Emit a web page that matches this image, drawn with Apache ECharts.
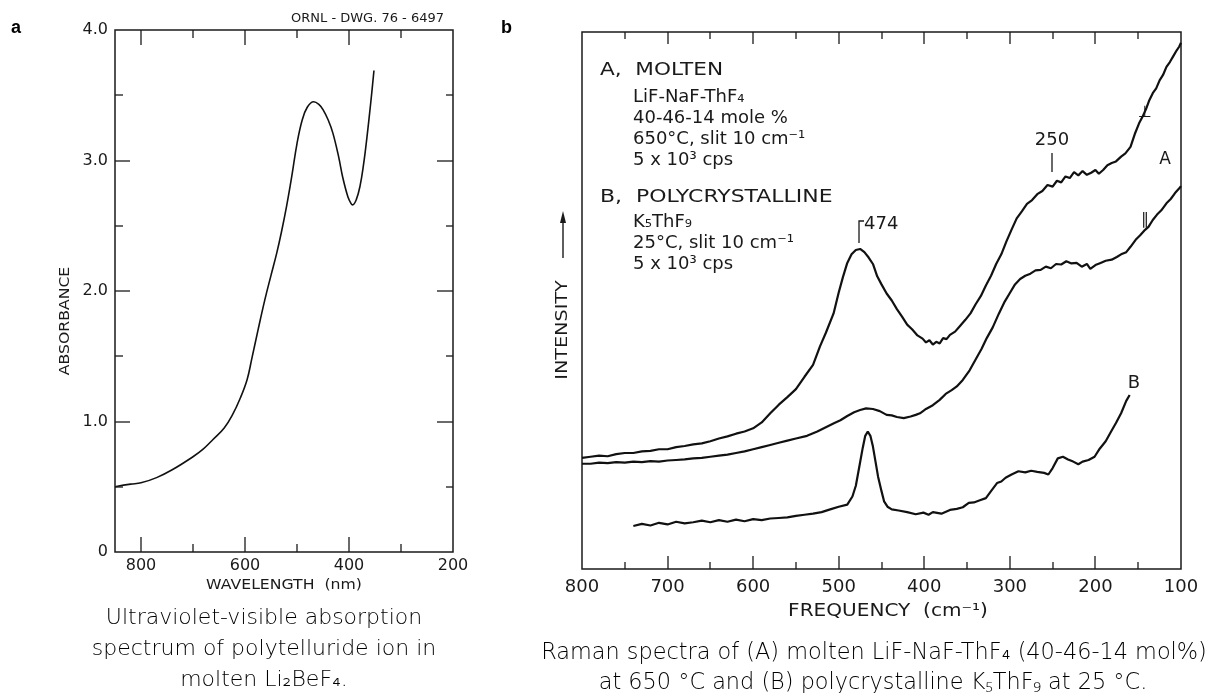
<!DOCTYPE html>
<html><head><meta charset="utf-8">
<script src="https://cdn.jsdelivr.net/npm/echarts@6/dist/echarts.min.js"></script>
<style>html,body{margin:0;padding:0;background:#fff;}#c{width:1208px;height:693px;}</style>
</head><body><div id="c"></div>
<script>
// ---------- Panel a: UV-visible absorption ----------
const uvWavelength = [850,820,800,770,740,700,680,662,640,623,610,596,587,575,562,550,539,530,520,510,500,490,480,468,458,450,440,431,420,412,402,396,393,386,379,372,366,358,352];
const uvAbsorbance = [0.50,0.52,0.53,0.57,0.63,0.73,0.79,0.86,0.95,1.06,1.17,1.32,1.48,1.70,1.93,2.12,2.29,2.45,2.65,2.88,3.13,3.31,3.41,3.45,3.43,3.39,3.31,3.21,3.03,2.87,2.72,2.67,2.66,2.70,2.80,2.97,3.16,3.45,3.69];
const uvXTicks = [800,600,400,200];
const uvXMinorTicks = [700,500,300];
const uvYTicks = [0,1,2,3,4];
const uvYMinorTicks = [0.5,1.5,2.5,3.5];

// ---------- Panel b: Raman spectra ----------
const perpFreq = [800,790,780,770,760,750,740,730,720,710,700,690,680,670,660,650,640,630,620,610,600,590,580,570,560,550,540,530,522,515,506,500,495,490,485,480,475,470,465,460,455,450,444,438,432,426,420,414,408,402,398,394,390,386,382,378,374,370,364,358,352,346,340,334,328,322,316,310,304,298,292,286,280,274,268,262,256,250,245,240,235,230,225,220,215,210,205,200,196,191,186,181,176,170,165,159,154,149,145,141,137,133,129,125,121,117,113,109,105,102,100];
const perpInt = [20.7,20.9,21.1,21.0,21.4,21.6,21.6,21.9,22.0,22.3,22.3,22.7,22.9,23.2,23.4,23.8,24.3,24.7,25.2,25.6,26.2,27.3,29.0,30.6,32.0,33.5,35.8,38.0,41.4,44.0,47.6,51.5,54.4,57.0,58.6,59.4,59.6,59.0,58.0,56.8,54.5,53.0,51.3,50.0,48.4,47.0,45.5,44.6,43.5,42.9,42.2,42.6,41.8,42.3,42.0,43.0,42.8,43.6,44.2,45.3,46.4,47.6,49.3,50.8,52.8,54.6,56.8,58.6,61.0,63.2,65.3,66.6,68.0,68.7,69.8,70.4,71.5,71.2,72.3,72.0,73.1,72.8,73.9,73.3,74.1,73.4,73.8,74.3,73.6,74.3,75.2,75.6,75.9,76.8,77.4,78.6,81.0,83.0,84.2,85.6,87.3,88.6,89.5,91.0,92.0,93.5,94.4,95.5,96.6,97.3,98.0];

const parFreq = [800,790,780,770,760,750,740,730,720,710,700,690,680,670,660,650,640,630,620,610,600,590,580,570,560,550,537,525,515,505,498,490,482,475,468,460,452,444,438,432,424,416,410,405,398,390,382,375,368,362,355,347,340,333,327,320,313,306,300,294,288,282,276,270,264,258,252,246,240,234,228,222,216,210,206,200,194,188,181,175,170,164,159,153,148,143,138,133,128,123,117,112,107,102,100];
const parInt = [19.6,19.6,19.8,19.7,19.9,19.8,20.0,19.9,20.1,20.0,20.2,20.3,20.4,20.6,20.7,20.9,21.1,21.3,21.6,21.9,22.3,22.7,23.1,23.5,23.9,24.3,24.8,25.6,26.4,27.2,27.7,28.5,29.2,29.6,29.9,29.8,29.4,28.7,28.6,28.3,28.1,28.4,28.7,29.0,29.8,30.5,31.5,32.6,33.3,34.0,35.2,37.0,39.0,41.0,43.0,45.0,47.5,49.8,51.4,53.0,54.0,54.6,55.0,55.6,55.7,56.3,56.0,56.8,56.7,57.3,56.9,57.0,56.3,56.8,55.9,56.6,57.0,57.4,57.6,58.1,58.6,59.0,60.0,61.3,62.1,63.0,63.7,65.0,66.0,66.8,68.1,68.9,70.0,70.9,71.3];

const polyFreq = [740,730,720,710,700,690,680,670,660,650,640,630,620,610,600,590,580,570,560,550,540,530,520,510,500,490,484,480,476,472,469,466,463,460,457,454,450,447,443,438,430,420,410,401,395,390,380,370,362,355,348,342,335,328,322,315,310,305,298,290,282,275,268,260,255,250,244,238,232,226,220,215,208,201,195,188,182,176,170,164,160];
const polyInt = [8.0,8.4,8.1,8.6,8.3,8.8,8.5,8.7,9.0,8.7,9.1,8.8,9.2,8.9,9.3,9.1,9.4,9.5,9.6,9.9,10.1,10.3,10.6,11.1,11.6,12.0,13.5,15.5,19.0,22.5,24.8,25.6,24.8,22.8,20.0,17.2,14.5,12.6,11.6,11.1,10.9,10.6,10.2,10.5,10.1,10.6,10.3,11.0,11.2,11.5,12.3,12.4,12.8,13.2,14.5,16.0,16.3,17.0,17.6,18.2,18.0,18.3,18.1,17.9,17.6,18.8,20.6,20.9,20.4,20.0,19.5,20.0,20.3,20.9,22.4,23.8,25.5,27.2,29.0,31.3,32.4];
const ramanXTicks = [800,700,600,500,400,300,200,100];
const ramanMinorTicks = [750,650,550,450,350,250,150];

const zip = (xs, ys) => xs.map((x, i) => [x, ys[i]]);

const AX = "'DejaVu Sans','Liberation Sans',sans-serif";
const CAP = "'DejaVu Sans','Noto Sans',sans-serif";
const INK = '#1a1a1a';

const UV_X = [200, 850], UV_Y = [0, 4];
const RA_X = [100, 800], RA_Y = [0, 100];

const frame = {show:true, borderColor:INK, borderWidth:1.5, backgroundColor:'transparent', containLabel:false};
const grids = [
  Object.assign({left:115, top:30, width:338, height:522}, frame),
  Object.assign({left:582, top:32, width:599, height:537}, frame)
];

const xAxes = [
  {type:'value', gridIndex:0, position:'bottom', inverse:true, min:UV_X[0], max:UV_X[1], interval:200,
   axisLine:{show:false}, axisTick:{show:false}, splitLine:{show:false},
   axisLabel:{show:true, margin:6, fontSize:16, fontFamily:AX, color:INK,
     formatter:v => uvXTicks.includes(v) ? String(v) : ''}},
  {type:'value', gridIndex:1, position:'bottom', inverse:true, min:RA_X[0], max:RA_X[1], interval:100,
   axisLine:{show:false}, axisTick:{show:false}, splitLine:{show:false},
   axisLabel:{show:true, margin:9, fontSize:18, fontFamily:AX, color:INK,
     formatter:v => ramanXTicks.includes(v) ? String(v) : ''}}
];
const yAxes = [
  {type:'value', gridIndex:0, position:'left', min:UV_Y[0], max:UV_Y[1], interval:1,
   axisLine:{show:false}, axisTick:{show:false}, splitLine:{show:false},
   axisLabel:{show:true, margin:7, fontSize:16, fontFamily:AX, color:INK,
     formatter:v => uvYTicks.includes(v) ? (v === 0 ? '0' : v.toFixed(1)) : ''}},
  {type:'value', gridIndex:1, min:RA_Y[0], max:RA_Y[1], show:false}
];

function txt(x, y, text, size, opts) {
  opts = opts || {};
  return {type:'text', x:x, y:y, silent:true, rotation:opts.rot || 0, scaleX:opts.sx || 1,
    style:Object.assign({text:text, fontSize:size, fontFamily:AX, fill:INK,
      align:'left', verticalAlign:'middle', textAlign:'left', textVerticalAlign:'middle'}, opts.style || {})};
}
const center = {align:'center', textAlign:'center'};
const rightA = {align:'right', textAlign:'right'};
const capStyle = Object.assign({fontFamily:CAP, fill:'#000', fontWeight:200}, center);

const graphics = [
  txt(11, 28, 'a', 18, {style:{fontWeight:'bold', fontFamily:"'Liberation Sans',sans-serif", fill:'#000'}}),
  txt(501, 28, 'b', 18, {style:{fontWeight:'bold', fontFamily:"'Liberation Sans',sans-serif", fill:'#000'}}),
  txt(444, 19, 'ORNL - DWG. 76 - 6497', 13, {style:rightA}),
  txt(65, 321, 'ABSORBANCE', 14, {rot:Math.PI/2, sx:1.12, style:center}),
  txt(284, 585, 'WAVELENGTH  (nm)', 14, {sx:1.12, style:center}),
  txt(888, 612, 'FREQUENCY  (cm\u207B\u00B9)', 17, {sx:1.18, style:center}),
  txt(563, 330, 'INTENSITY', 16, {rot:Math.PI/2, sx:1.2, style:center}),
  {type:'line', silent:true, shape:{x1:563, y1:258, x2:563, y2:220}, style:{stroke:INK, lineWidth:1.4}},
  {type:'polygon', silent:true, shape:{points:[[563,211],[560,223],[566,223]]}, style:{fill:INK}},
  txt(600, 70, 'A,  MOLTEN', 18, {sx:1.2}),
  txt(633, 97, 'LiF-NaF-ThF\u2084', 18),
  txt(633, 118, '40-46-14 mole %', 18),
  txt(633, 139, '650\u00B0C, slit 10 cm\u207B\u00B9', 18),
  txt(633, 160, '5 x 10\u00B3 cps', 18),
  txt(600, 197, 'B,  POLYCRYSTALLINE', 18, {sx:1.22}),
  txt(633, 222, 'K\u2085ThF\u2089', 18),
  txt(633, 243, '25\u00B0C, slit 10 cm\u207B\u00B9', 18),
  txt(633, 264, '5 x 10\u00B3 cps', 18),
  txt(864, 224, '474', 18),
  {type:'polyline', silent:true, shape:{points:[[859,243],[859,221],[864,221]]}, style:{stroke:INK, lineWidth:1.3, fill:null}},
  txt(1052, 140, '250', 18, {style:center}),
  {type:'line', silent:true, shape:{x1:1052, y1:153, x2:1052, y2:172}, style:{stroke:INK, lineWidth:1.3}},
  txt(1145, 113, '\u22A5', 16, {style:center}),
  txt(1165, 160, 'A', 17, {style:center}),
  txt(1145, 220, '\u2225', 16, {style:center}),
  txt(1134, 383, 'B', 18, {style:center}),
  txt(264, 618, 'Ultraviolet-visible absorption', 22, {style:capStyle}),
  txt(264, 649, 'spectrum of polytelluride ion in', 22, {style:capStyle}),
  txt(264, 680, 'molten Li\u2082BeF\u2084.', 22, {style:capStyle}),
  txt(874, 653, 'Raman spectra of (A) molten LiF-NaF-ThF\u2084 (40-46-14 mol%)', 22.4, {style:capStyle}),
  txt(873, 683, 'at 650 \u00B0C and (B) polycrystalline K\u2085ThF\u2089 at 25 \u00B0C.', 22.4, {style:capStyle})
];

const lineSeries = (name, data, ai, w, smooth) => ({
  type:'line', name:name, data:data, xAxisIndex:ai, yAxisIndex:ai, showSymbol:false, symbol:'none',
  smooth:smooth, lineStyle:{color:'#111', width:w}, silent:true, clip:false
});

const chart = echarts.init(document.getElementById('c'), null, {renderer:'canvas'});
chart.setOption({
  animation:false,
  backgroundColor:'#fff',
  grid:grids,
  xAxis:xAxes,
  yAxis:yAxes,
  series:[
    lineSeries('uv', zip(uvWavelength, uvAbsorbance), 0, 1.6, 0.4),
    lineSeries('A perp', zip(perpFreq, perpInt), 1, 2.2, false),
    lineSeries('A par', zip(parFreq, parInt), 1, 2.2, false),
    lineSeries('B', zip(polyFreq, polyInt), 1, 2.2, false)
  ],
  graphic:{elements:graphics}
});

// ---- Tick marks, placed with the axes' own scales ----
const tickEls = [];
const addLine = (x1, y1, x2, y2) => {
  if ([x1, y1, x2, y2].some(v => typeof v !== 'number' || !isFinite(v))) return;
  tickEls.push({type:'rect', silent:true, z:50,
    shape:{x:Math.min(x1, x2), y:Math.min(y1, y2), width:Math.max(Math.abs(x2 - x1), 1.3), height:Math.max(Math.abs(y2 - y1), 1.3)},
    style:{fill:INK}});
};
// y coordinate of the bottom / top edge from each panel's y axis
const yPix = (gi, v) => chart.convertToPixel({yAxisIndex:gi}, v);
const xPix = (gi, v) => chart.convertToPixel({xAxisIndex:gi}, v);
function xTicks(gi, values, yr, lenBottom, lenTop) {
  const yb = yPix(gi, yr[0]), yt = yPix(gi, yr[1]);
  values.forEach(v => {
    const x = Math.round(xPix(gi, v)) - 0.65;
    addLine(x, yb - lenBottom, x + 1.3, yb);
    addLine(x, yt, x + 1.3, yt + lenTop);
  });
}
function yTicks(gi, values, xr, lenLeft, lenRight) {
  const xl = xPix(gi, xr[1]), xr0 = xPix(gi, xr[0]);
  values.forEach(v => {
    const y = Math.round(yPix(gi, v)) - 0.65;
    addLine(xl, y, xl + lenLeft, y + 1.3);
    addLine(xr0 - lenRight, y, xr0, y + 1.3);
  });
}
xTicks(0, uvXTicks.filter(v => v > UV_X[0] && v < UV_X[1]), UV_Y, 15, 15);
xTicks(0, uvXMinorTicks, UV_Y, 8, 8);
yTicks(0, uvYTicks.filter(v => v > UV_Y[0] && v < UV_Y[1]), UV_X, 15, 16);
yTicks(0, uvYMinorTicks, UV_X, 8, 7);
xTicks(1, ramanXTicks.filter(v => v > RA_X[0] && v < RA_X[1]), RA_Y, 13, 12);
xTicks(1, ramanMinorTicks, RA_Y, 7, 7);

chart.setOption({graphic:{elements:graphics.concat(tickEls)}});
</script></body></html>
